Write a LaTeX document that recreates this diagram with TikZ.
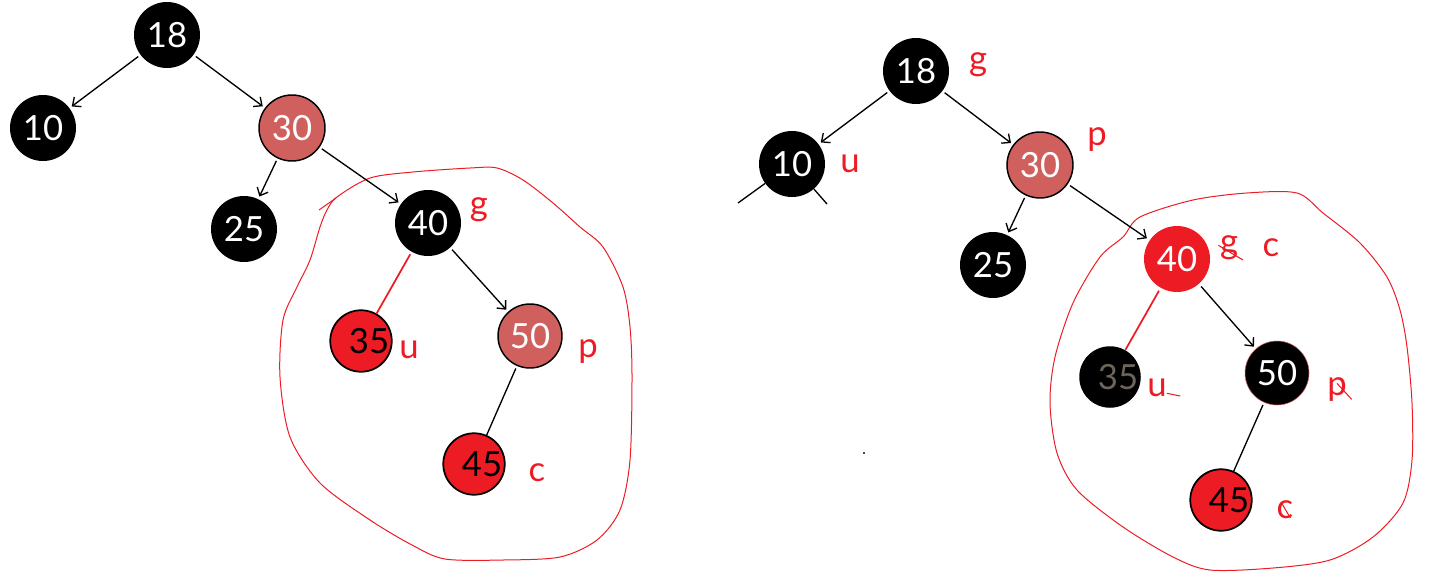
\documentclass[tikz,border=0pt]{standalone}
\usepackage{fontspec}
\setmainfont{Lato}
\usepackage{tikz}
\usetikzlibrary{arrows.meta,positioning}
\definecolor{inkred}{HTML}{ED1C24}
\definecolor{softred}{HTML}{D0605E}
\definecolor{dimdigit}{HTML}{6B6659}
\tikzset{
  blacknode/.style={
    circle, fill=black, text=white, inner sep=0pt,
    minimum size=49.5pt, font=\fontsize{26}{28}\selectfont
  },
  softnode/.style={blacknode, fill=softred, draw=black, line width=1.1pt},
  rednode/.style={blacknode, fill=inkred, draw=black, line width=1.3pt,
    text=black, minimum size=45pt},
  treearrow/.style={-{Straight Barb[length=5pt,width=9pt]}, line width=1pt,
    shorten >=2pt, shorten <=2pt},
  treeline/.style={line width=1pt, shorten <=2pt},
  redline/.style={treeline, draw=inkred, line width=1.3pt},
  marklabel/.style={text=inkred, inner sep=0pt, font=\fontsize{26}{28}\selectfont},
  strike/.style={draw=inkred, line width=0.8pt},
  lasso/.style={draw=inkred, line width=0.75pt},
}

\begin{document}
\begin{tikzpicture}[x=0.75pt, y=-0.75pt, on grid]
  \useasboundingbox (0,0) rectangle (1452,578);

  % freehand loops round the 40 subtree
  \draw[lasso] plot[smooth cycle] coordinates {(337,197) (370,178) (413,172) (470,168) (497,168) (523,180) (553,203) (580,227) (603,247) (623,287) (630,327) (632,377) (630,460) (620,510) (597,540) (560,557) (503,560) (445,559) (412,545) (370,520) (320,483) (290,437) (280,377) (283,320) (297,287) (310,260) (320,227) (327,210)};
  \draw[lasso] (319,210) -- (336,198);
  \draw[lasso] plot[smooth cycle] coordinates {(1140,217) (1193,200) (1247,193) (1297,193) (1323,213) (1360,243) (1387,277) (1400,310) (1407,347) (1412,403) (1412,460) (1403,503) (1373,537) (1330,560) (1273,568) (1210,570) (1173,557) (1123,527) (1077,490) (1057,453) (1050,403) (1055,357) (1073,303) (1100,257) (1123,237)};

  % tree before recolouring
  \node[blacknode] (topL) at (167,35) {18};
  \node[blacknode, below left=69.75pt and 93pt of topL] (tenL) {10};
  \node[softnode, below right=69.75pt and 93.75pt of topL] (thirtyL) {30};
  \node[blacknode, below left=75.75pt and 36pt of thirtyL] (twentyfiveL) {25};
  \node[blacknode, below right=71.25pt and 102pt of thirtyL] (fortyL) {40};
  \node[rednode, minimum size=46pt, below left=88.5pt and 50.25pt of fortyL] (thirtyfiveL) {\hspace*{12pt}35};
  \node[softnode, minimum size=48pt, below right=84.75pt and 76.5pt of fortyL] (fiftyL) {50};
  \node[rednode, minimum size=44pt, below left=96pt and 42pt of fiftyL] (fortyfiveL) {\hspace*{12pt}45};

  \node[marklabel, above right=9.75pt and 38.25pt of fortyL] (gL) {g};
  \node[marklabel, below right=6.75pt and 36pt of thirtyfiveL] (uL) {u};
  \node[marklabel, below right=12pt and 43.5pt of fiftyL] (pL) {p};
  \node[marklabel, below right=6.75pt and 47.25pt of fortyfiveL] (cL) {c};

  \draw[treearrow] (topL) -- (tenL);
  \draw[treearrow] (topL) -- (thirtyL);
  \draw[treearrow] (thirtyL) -- (twentyfiveL);
  \draw[treearrow] (thirtyL) -- (fortyL);
  \draw[redline] (fortyL) -- (thirtyfiveL);
  \draw[treearrow] (fortyL) -- (fiftyL);
  \draw[treeline] (fiftyL) -- (fortyfiveL);

  % tree after recolouring
  \node[blacknode] (topR) at (916,71) {18};
  \node[blacknode, below left=69.75pt and 93pt of topR] (tenR) {10};
  \node[softnode, below right=70.5pt and 93pt of topR] (thirtyR) {30};
  \node[blacknode, below left=75pt and 35.25pt of thirtyR] (twentyfiveR) {25};
  \node[rednode, draw=none, text=white, minimum size=49.5pt, below right=70.5pt and 102.75pt of thirtyR] (fortyR) {40};
  \node[blacknode, text=dimdigit, minimum size=46pt, below left=88.5pt and 50.25pt of fortyR] (thirtyfiveR) {\hspace*{12pt}35};
  \node[blacknode, draw=softred, line width=0.4pt, minimum size=48pt, below right=85.5pt and 75pt of fortyR] (fiftyR) {50};
  \node[rednode, minimum size=44pt, below left=95.25pt and 42pt of fiftyR] (fortyfiveR) {\hspace*{12pt}45};

  \node[marklabel, above right=4.5pt and 46.5pt of topR] (gR) {g};
  \node[marklabel, right=43.5pt of tenR] (uR) {u};
  \node[marklabel, above right=18.75pt and 42.75pt of thirtyR] (pR) {p};
  \node[marklabel, above right=8.25pt and 39pt of fortyR] (gOld) {g};
  \node[marklabel, above right=8.25pt and 70.5pt of fortyR] (cNew) {c};
  \node[marklabel, below right=8.25pt and 35.25pt of thirtyfiveR] (uOld) {u};
  \node[marklabel, below right=12.75pt and 45pt of fiftyR] (pOld) {p};
  \node[marklabel, below right=7.5pt and 48pt of fortyfiveR] (cOld) {c};

  \draw[strike] ([shift={(-8pt,2pt)}]gOld.center) -- ([shift={(10.5pt,-9pt)}]gOld.center);
  \draw[strike] ([yshift=-4pt]uOld.east) -- ([shift={(10pt,-6pt)}]uOld.east);
  \draw[strike] ([shift={(0pt,5pt)}]pOld.center) -- ([shift={(11pt,-7pt)}]pOld.center);
  \draw[strike] ([shift={(-3pt,6pt)}]cOld.center) -- ([shift={(4pt,-6pt)}]cOld.center);

  \coordinate (nilA) at (738,203);
  \coordinate (nilB) at (827,204);
  \draw[line width=1pt] (tenR) -- (nilA);
  \draw[line width=1pt] (tenR) -- (nilB);

  \draw[treearrow] (topR) -- (tenR);
  \draw[treearrow] (topR) -- (thirtyR);
  \draw[treearrow] (thirtyR) -- (twentyfiveR);
  \draw[treearrow] (thirtyR) -- (fortyR);
  \draw[redline] (fortyR) -- (thirtyfiveR);
  \draw[treearrow] (fortyR) -- (fiftyR);
  \draw[treeline] (fiftyR) -- (fortyfiveR);

  \node[fill=black!70, inner sep=0pt, minimum size=1.5pt] (speck) at (864,453) {};
\end{tikzpicture}
\end{document}
